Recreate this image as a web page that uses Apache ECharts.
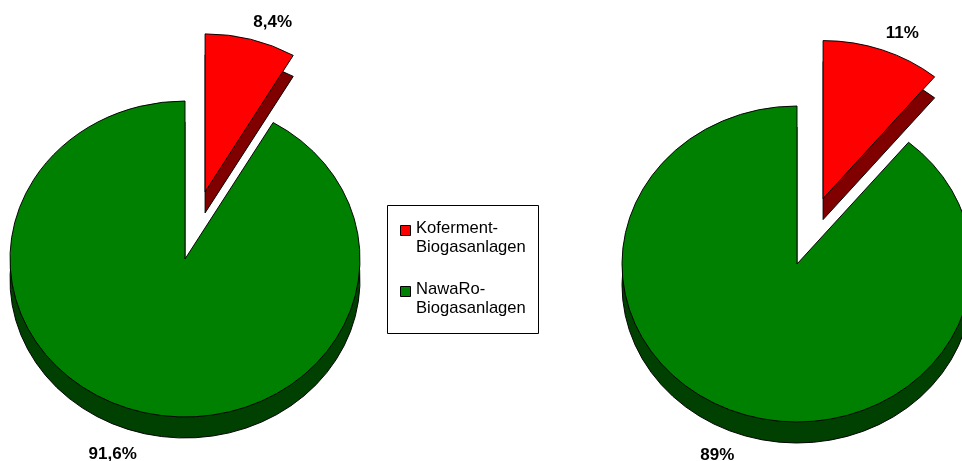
<!DOCTYPE html>
<html>
<head>
<meta charset="utf-8">
<script src="https://cdn.jsdelivr.net/npm/echarts@6/dist/echarts.min.js"></script>
<style>
  html, body { margin: 0; padding: 0; background: #fff; }
  #chart { width: 962px; height: 461px; }
</style>
</head>
<body>
<div id="chart"></div>
<script>
// legend names and pie values (share in %)
const categories = ["Koferment-\nBiogasanlagen", "NawaRo-\nBiogasanlagen"];
const leftShares = [8.4, 91.6];
const rightShares = [11, 89];
const leftLabels = ["8,4%", "91,6%"];
const rightLabels = ["11%", "89%"];

const topColors = ["#ff0000", "#008000"];
const sideColors = ["#800000", "#004000"];

// layout of the two pseudo-3D pies
const pies = [
  { name: "links", values: leftShares, labels: leftLabels, cx: 185, cy: 259 },
  { name: "rechts", values: rightShares, labels: rightLabels, cx: 797, cy: 264 }
];
const R = 175, SY = 158 / 175, DEPTH = 21, EXPLODE = 77, LABEL_R = 185;
const FONT = "'Liberation Sans', Arial, sans-serif";

function pieRenderer(pie) {
  const total = pie.values.reduce((a, b) => a + b, 0);
  return function (params, api) {
    const i = params.dataIndex;
    const before = pie.values.slice(0, i).reduce((a, b) => a + b, 0);
    const a0 = before / total * 2 * Math.PI;
    const a1 = (before + api.value(0)) / total * 2 * Math.PI;
    const mid = (a0 + a1) / 2;
    const off = i === 0 ? EXPLODE : 0; // first slice pulled out
    const ox = pie.cx + Math.sin(mid) * off;
    const oy = pie.cy - Math.cos(mid) * off * SY;
    const shape = { cx: 0, cy: 0, r0: 0, r: R, startAngle: a0 - Math.PI / 2, endAngle: a1 - Math.PI / 2, clockwise: true };

    const lower = Math.cos(mid) < 0;
    const lx = ox + Math.sin(mid) * LABEL_R;
    const ly = oy - Math.cos(mid) * LABEL_R * SY + (lower ? DEPTH + 5 : 0);

    return {
      type: "group",
      children: [
        {
          type: "group", x: ox, y: oy + DEPTH, scaleY: SY,
          children: [{ type: "sector", shape, style: { fill: sideColors[i], stroke: "#000", lineWidth: 1 } }]
        },
        {
          type: "group", x: ox, y: oy, scaleY: SY,
          children: [{ type: "sector", shape, style: { fill: topColors[i], stroke: "#000", lineWidth: 1 } }]
        },
        {
          type: "text", x: lx, y: ly,
          style: {
            text: pie.labels[i], fill: "#000",
            fontFamily: FONT, fontSize: 17, fontWeight: "bold",
            align: Math.sin(mid) > 0 ? "left" : "right",
            verticalAlign: lower ? "top" : "bottom"
          }
        }
      ]
    };
  };
}

const legendItems = [];
categories.forEach((c, k) => {
  legendItems.push({
    type: "rect", shape: { x: 400.5, y: 225.5 + k * 61, width: 10, height: 10 },
    style: { fill: topColors[k], stroke: "#000", lineWidth: 1 }
  });
  legendItems.push({
    type: "text", x: 416, y: 219 + k * 61,
    style: { text: c, fill: "#000", fontFamily: FONT, fontSize: 16.6, lineHeight: 19, align: "left", verticalAlign: "top" }
  });
});

const chart = echarts.init(document.getElementById("chart"));
chart.setOption({
  backgroundColor: "#fff",
  animation: false,
  series: pies.map(p => ({
    type: "custom",
    name: p.name,
    coordinateSystem: "none",
    data: p.values.map((v, k) => ({ name: categories[k], value: [v] })),
    renderItem: pieRenderer(p)
  })),
  graphic: [
    { type: "rect", shape: { x: 387.5, y: 205.5, width: 151, height: 128 }, style: { fill: "#fff", stroke: "#000", lineWidth: 1 } },
    ...legendItems
  ]
});
</script>
</body>
</html>
